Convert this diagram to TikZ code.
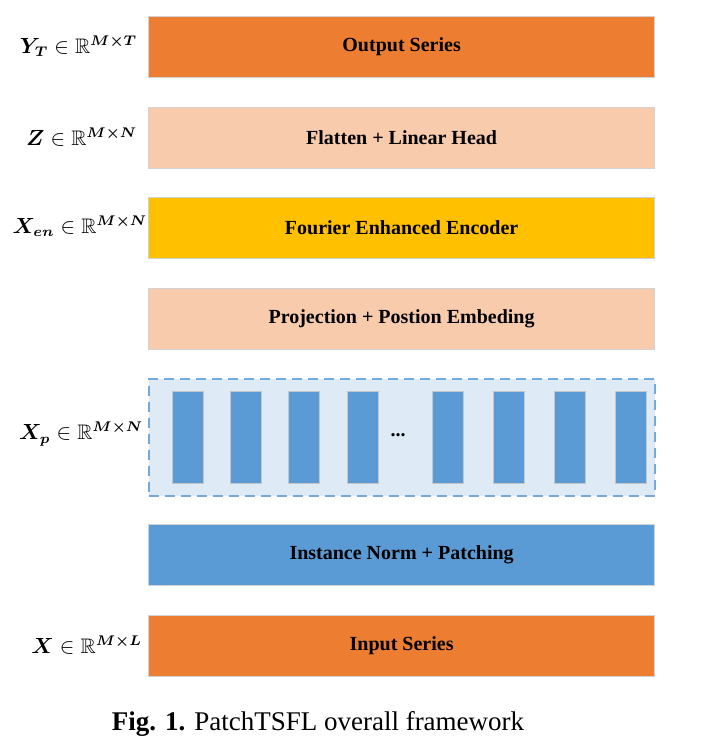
\documentclass[tikz,border=0pt]{standalone}
\usepackage{amsmath,amssymb}
\usepackage{fontspec}
\setmainfont{Liberation Serif}
\definecolor{outorange}{HTML}{ED7D31}
\definecolor{peach}{HTML}{F8CBAD}
\definecolor{gold}{HTML}{FFC000}
\definecolor{patchblue}{HTML}{5B9BD5}
\definecolor{paleblue}{HTML}{DEEAF6}

\begin{document}
\begin{tikzpicture}[x=0.5pt, y=-0.5pt, thick,
    layer node/.style={draw=gray!35, line width=0.6pt, minimum width=253pt, minimum height=30.5pt, font=\bfseries, anchor=north west, inner sep=0pt},
    patch node/.style={draw=gray!45, line width=0.5pt, fill=patchblue, minimum width=15.5pt, minimum height=46pt, anchor=north west, inner sep=0pt},
    dim node/.style={anchor=east, inner sep=0pt, font=\fontsize{10.5}{12}\selectfont}]
\useasboundingbox (0,0) rectangle (723,747);
\node[layer node, fill=outorange] (output) at (148,16) {Output Series};
\node[layer node, fill=peach] (head) at (148,107) {Flatten + Linear Head};
\node[layer node, fill=gold] (encoder) at (148,197) {Fourier Enhanced Encoder};
\node[layer node, fill=peach] (embed) at (148,288) {Projection + Postion Embeding};
\node[draw=patchblue!85, dashed, dash pattern=on 5pt off 3pt, line width=0.8pt, fill=paleblue, minimum width=253pt, minimum height=58.5pt, anchor=north west, inner sep=0pt] (patches) at (148,378) {};
\foreach \px [count=\i] in {172,230,288,347,432,493,554,615}
    \node[patch node] (patch\i) at (\px,391) {};
\node[font=\bfseries] (dots) at (398,435) {...};
\node[layer node, fill=patchblue] (norm) at (148,524) {Instance Norm + Patching};
\node[layer node, fill=outorange] (input) at (148,615) {Input Series};
\node[dim node] (yt) at (138,46) {$\boldsymbol{Y_T}\in\mathbb{R}^{\boldsymbol{M\times T}}$};
\node[dim node] (z) at (138,137) {$\boldsymbol{Z}\in\mathbb{R}^{\boldsymbol{M\times N}}$};
\node[dim node] (xen) at (148,226) {$\boldsymbol{X_{en}}\in\mathbb{R}^{\boldsymbol{M\times N}}$};
\node[dim node] (xp) at (144,434) {$\boldsymbol{X_p}\in\mathbb{R}^{\boldsymbol{M\times N}}$};
\node[dim node] (x) at (143,645) {$\boldsymbol{X}\in\mathbb{R}^{\boldsymbol{M\times L}}$};
\node[font=\fontsize{13.5}{16}\selectfont] (caption) at (318,724) {\textbf{Fig. 1.} PatchTSFL overall framework};
\end{tikzpicture}
\end{document}
